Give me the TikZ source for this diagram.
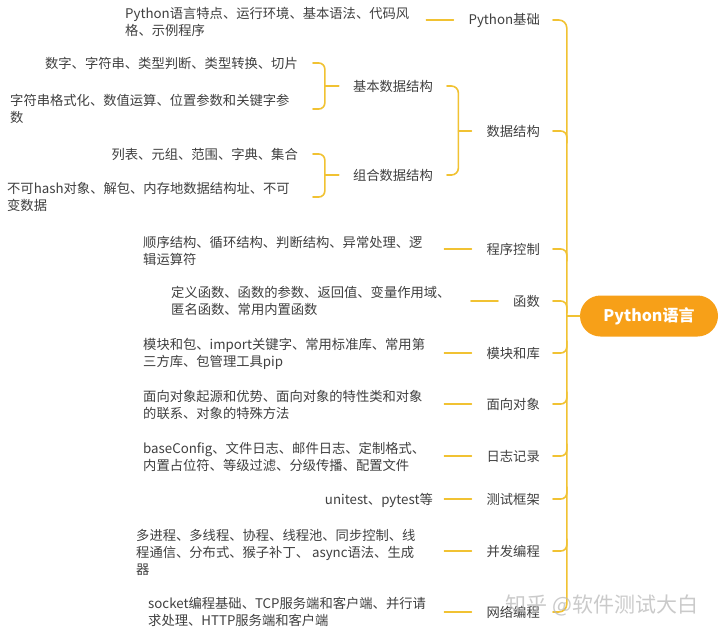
\documentclass[tikz,border=0pt]{standalone}
\usepackage{fontspec}
\setmainfont{Noto Sans CJK SC}
\usetikzlibrary{calc}
\definecolor{lncol}{RGB}{241,194,50}
\definecolor{rootcol}{RGB}{247,160,24}
\definecolor{txtgray}{RGB}{64,64,64}
\begin{document}
\begin{tikzpicture}[x=1pt,y=-1pt,
  txt/.style={font=\fontsize{13.3}{17}\selectfont, text=txtgray, inner sep=0pt, align=left},
  descw/.style={txt, anchor=west},
  desce/.style={txt, anchor=east},
  lab/.style={txt, anchor=east},
  ln/.style={draw=lncol, line width=1.6pt, line cap=round},
  rootbox/.style={fill=rootcol, rounded corners=20.5pt, minimum width=138pt, minimum height=41pt,
    inner sep=0pt, text=white, font=\bfseries\fontsize{16}{16}\selectfont},
  wm/.style={font=\fontsize{21}{21}\selectfont, text=gray!55, opacity=0.75, inner sep=0pt}]
\useasboundingbox[fill=white] (0,0) rectangle (720,635);

% root
\node[rootbox] (root) at (649,316) {Python语言};

% level 1 labels
\node[lab] (pb)   at (540,20)  {Python基础};
\node[lab] (ds)   at (540,131) {数据结构};
\node[lab] (pc)   at (540,249) {程序控制};
\node[lab] (fn)   at (540,301) {函数};
\node[lab] (mod)  at (540,353) {模块和库};
\node[lab] (oop)  at (540,404) {面向对象};
\node[lab] (log)  at (540,456) {日志记录};
\node[lab] (tst)  at (540,499) {测试框架};
\node[lab] (conc) at (540,551) {并发编程};
\node[lab] (net)  at (540,612) {网络编程};

% level 2 labels
\node[lab] (bas)  at (433,86)  {基本数据结构};
\node[lab] (comb) at (433,175) {组合数据结构};

% descriptions
\node[descw] (dpb) at (125,21.5) {Python语言特点、运行环境、基本语法、代码风\\格、示例程序};
\node[desce] (d3a) at (298,63) {数字、字符串、类型判断、类型转换、切片};
\node[descw] (d3b) at (10,109) {字符串格式化、数值运算、位置参数和关键字参\\数};
\node[desce] (d3c) at (298,154) {列表、元组、范围、字典、集合};
\node[descw] (d3d) at (7,197) {不可hash对象、解包、内存地数据结构址、不可\\变数据};
\node[descw] (dpc) at (143,250.5) {顺序结构、循环结构、判断结构、异常处理、逻\\辑运算符};
\node[descw] (dfn) at (171,301) {定义函数、函数的参数、返回值、变量作用域、\\匿名函数、常用内置函数};
\node[descw] (dmod) at (143,353.5) {模块和包、import关键字、常用标准库、常用第\\三方库、包管理工具pip};
\node[descw] (doop) at (143,405) {面向对象起源和优势、面向对象的特性类和对象\\的联系、对象的特殊方法};
\node[descw] (dlog) at (143,456.5) {baseConfig、文件日志、邮件日志、定制格式、\\内置占位符、等级过滤、分级传播、配置文件};
\node[desce] (dtst) at (433,500) {unitest、pytest等};
\node[descw] (dconc) at (136,552) {多进程、多线程、协程、线程池、同步控制、线\\程通信、分布式、猴子补丁、 async语法、生成\\器};
\node[descw] (dnet) at (148,612) {socket编程基础、TCP服务端和客户端、并行请\\求处理、HTTP服务端和客户端};

% spine
\coordinate (sp) at ([xshift=-13pt]root.west);
\draw[ln, rounded corners=8pt] ([xshift=13pt]pb.east) -| (sp) |- ([xshift=13pt]net.east);
\draw[ln] (sp) -- (root.west);
\foreach \n in {ds,pc,fn} {
  \draw[ln, rounded corners=6pt] ([xshift=13pt]\n.east) -| ($(sp |- \n.east)+(0,12)$);
}
\foreach \n in {mod,oop,log,tst,conc} {
  \draw[ln, rounded corners=6pt] ([xshift=13pt]\n.east) -| ($(sp |- \n.east)+(0,-12)$);
}

% short lines between description and label
\foreach \n in {pb,pc,fn,mod,oop,log,tst,conc,net} {
  \draw[ln] ([xshift=-15pt]\n.west) -- ([xshift=-42pt]\n.west);
}

% bracket for 数据结构
\coordinate (dsj) at ([xshift=-28pt]ds.west);
\draw[ln, rounded corners=7pt] ([xshift=14pt]bas.east) -| (dsj) |- ([xshift=14pt]comb.east);
\draw[ln] (dsj) -- ([xshift=-15pt]ds.west);

% bracket for 基本数据结构
\coordinate (basj) at ([xshift=-28pt]bas.west);
\coordinate (ba1) at ([xshift=15pt]d3a.east);
\coordinate (ba2) at (ba1 |- d3b.west);
\draw[ln, rounded corners=6pt] (ba1) -| (basj) |- (ba2);
\draw[ln] (basj) -- ([xshift=-14pt]bas.west);

% bracket for 组合数据结构
\coordinate (cbj) at ([xshift=-28pt]comb.west);
\coordinate (cb1) at ([xshift=15pt]d3c.east);
\coordinate (cb2) at (cb1 |- d3d.west);
\draw[ln, rounded corners=6pt] (cb1) -| (cbj) |- (cb2);
\draw[ln] (cbj) -- ([xshift=-14pt]comb.west);

% watermark
\node[wm] (wmk) at (602,605) {知乎 @软件测试大白};
\end{tikzpicture}
\end{document}
